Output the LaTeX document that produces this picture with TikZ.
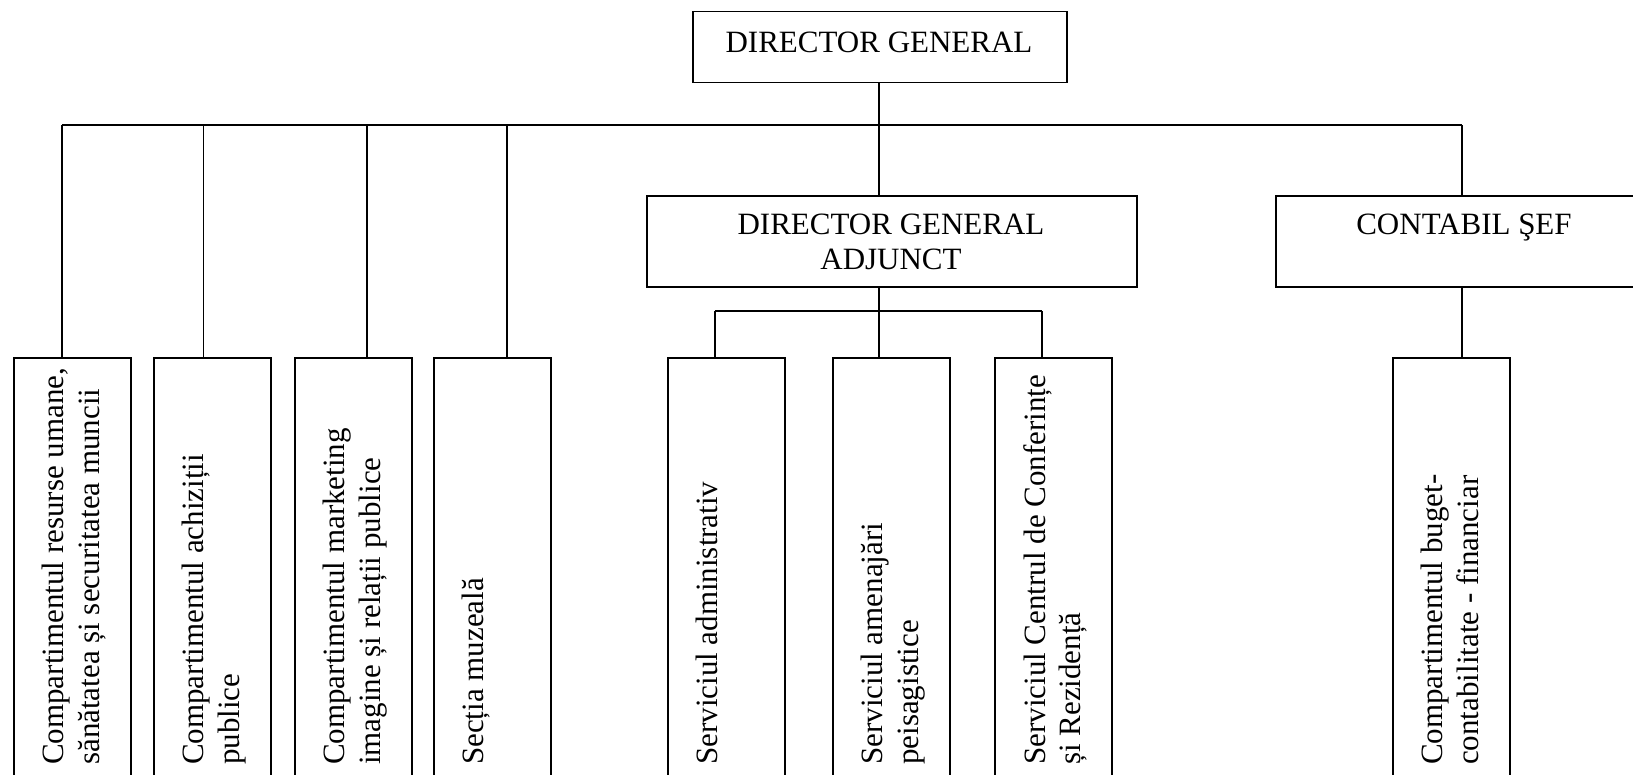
\documentclass[tikz,border=0pt]{standalone}
\usepackage{fontspec}
\setmainfont{Liberation Serif}
\begin{document}
\begin{tikzpicture}[x=1pt,y=-1pt,
  box/.style={draw, line width=1.6pt, inner sep=0pt, anchor=north west},
  lbl/.style={inner sep=0pt, font=\fontsize{31}{35.5}\selectfont},
  hlbl/.style={lbl, anchor=base},
  vlbl/.style={lbl, rotate=90, anchor=north west, align=left},
  conn/.style={line width=1.6pt}]
\useasboundingbox (0,0) rectangle (1633,774);
\clip (0,0) rectangle (1633,774);

% top level
\node[box, minimum width=374pt, minimum height=71pt] (dg) at (692,10.5) {};
\node[hlbl] (dgt) at (879,52) {DIRECTOR GENERAL};

% second level
\node[box, minimum width=490pt, minimum height=91pt] (dga) at (646,195) {};
\node[lbl, align=center, anchor=north] (dgat) at (891,213.5) {DIRECTOR GENERAL\\ADJUNCT};
\node[box, minimum width=380pt, minimum height=91pt] (cs) at (1275,195) {};
\node[hlbl] (cst) at (1464,234) {CONTABIL ŞEF};

% bottom boxes
\foreach \n/\x in {b1/13, b2/153, b3/294, b4/433, s1/667, s2/832, s3/994, c1/1392}
  \node[box, minimum width=117pt, minimum height=460pt] (\n) at (\x,357) {};

\node[vlbl] (t1) at (42,765) {Compartimentul resurse umane,\\sănătatea și securitatea muncii};
\node[vlbl] (t2) at (182,765) {Compartimentul achiziții\\publice};
\node[vlbl] (t3) at (323,765) {Compartimentul marketing\\imagine și relații publice};
\node[vlbl] (t4) at (462,765) {Secția muzeală};
\node[vlbl] (t5) at (696,765) {Serviciul administrativ};
\node[vlbl] (t6) at (861,765) {Serviciul amenajări\\peisagistice};
\node[vlbl] (t7) at (1023,765) {Serviciul Centrul de Conferințe\\și Rezidență};
\node[vlbl] (t8) at (1421,765) {Compartimentul buget-\\contabilitate - financiar};

% connectors
\coordinate (bar) at (879,125);
\coordinate (barL) at (62,125);
\coordinate (barR) at (1462,125);
\coordinate (d2) at (203.5,125);
\coordinate (d3) at (367,125);
\coordinate (d4) at (507,125);
\draw[conn] (bar |- dg.south) -- (bar);
\draw[conn] (barL) -- (barR);
\draw[conn] (barL) -- (barL |- b1.north);
\draw[conn] (d2) -- (d2 |- b2.north);
\draw[conn] (d3) -- (d3 |- b3.north);
\draw[conn] (d4) -- (d4 |- b4.north);
\draw[conn] (bar) -- (bar |- dga.north);
\draw[conn] (barR) -- (barR |- cs.north);

\coordinate (sbar) at (879,311);
\coordinate (sbarL) at (715,311);
\coordinate (sbarR) at (1042,311);
\draw[conn] (sbar |- dga.south) -- (sbar);
\draw[conn] (sbarL) -- (sbarR);
\draw[conn] (sbarL) -- (sbarL |- s1.north);
\draw[conn] (sbar) -- (sbar |- s2.north);
\draw[conn] (sbarR) -- (sbarR |- s3.north);

\draw[conn] (barR |- cs.south) -- (barR |- c1.north);
\end{tikzpicture}
\end{document}
